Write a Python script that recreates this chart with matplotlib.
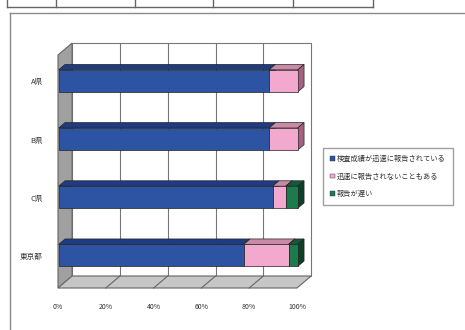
import matplotlib.pyplot as plt
from matplotlib.patches import Polygon, Patch
from matplotlib.lines import Line2D

plt.rcParams['font.family'] = ['Noto Sans CJK JP', 'DejaVu Sans']

# 地域ごとの回答割合 (%)
regions = ["東京都", "C県", "B県", "A県"]
timely = [77.4, 89.5, 88.0, 88.0]
sometimes = [18.8, 5.5, 12.0, 12.0]
slow = [3.8, 5.0, 0.0, 0.0]
series_names = ["検査成績が迅速に報告されている", "迅速に報告されないこともある", "報告が遅い"]
xticks = [0, 20, 40, 60, 80, 100]

W, H = 465, 330
fig = plt.figure(figsize=(W / 100, H / 100), dpi=100)

def fx(px):
    return px / W

def fy(py):
    return 1 - py / H

# 前面の座標系: x=0..100 %, y=カテゴリ
y_lo, y_hi = -0.55, 3.455
ax = fig.add_axes([fx(58), fy(288), fx(297) - fx(58), fy(55) - fy(288)])
ax.set_xlim(0, 100)
ax.set_ylim(y_lo, y_hi)
for s in ax.spines.values():
    s.set_visible(False)

# 奥行き方向のずらし量
DX, DY = 5.9, 0.206
bar_h = 0.38
d0, d1 = 0.05, 0.5  # 棒の奥行き位置 (壁の奥行きに対する割合)

def poly(pts, fc, ec="#222222", lw=0.5, z=1):
    p = Polygon(pts, closed=True, facecolor=fc, edgecolor=ec, linewidth=lw,
                clip_on=False, zorder=z)
    ax.add_patch(p)

# 奥の壁
poly([(DX, y_lo + DY), (100 + DX, y_lo + DY), (100 + DX, y_hi + DY), (DX, y_hi + DY)],
     "white", ec="#777777", lw=0.8, z=0)
for t in xticks[1:-1]:
    ax.plot([t + DX, t + DX], [y_lo + DY, y_hi + DY], color="#777777", lw=0.8,
            clip_on=False, zorder=0.5)
# 左の壁
poly([(0, y_lo), (DX, y_lo + DY), (DX, y_hi + DY), (0, y_hi)], "#a0a0a0", ec="#666666", lw=0.8, z=0.6)
# 床
poly([(0, y_lo), (100, y_lo), (100 + DX, y_lo + DY), (DX, y_lo + DY)], "#c6c6c6", ec="#666666", lw=0.8, z=0.6)
for t in xticks[1:-1]:
    ax.plot([t, t + DX], [y_lo, y_lo + DY], color="#666666", lw=0.8, clip_on=False, zorder=0.7)

colors = [("#2d54a3", "#1f3c80", "#17306a"),
          ("#f3a8cd", "#c98aa5", "#a86080"),
          ("#1d7a4c", "#14583a", "#0e4028")]

# 棒 (奥から手前、左から右の順に描く)
for i, reg in enumerate(regions[::-1]):
    idx = len(regions) - 1 - i
    yc = idx
    left = 0.0
    for vals, (front, top, side) in zip([timely, sometimes, slow], colors):
        v = vals[idx]
        if v <= 0:
            continue
        x0, x1 = left + d0 * DX, left + v + d0 * DX
        yb, yt = yc - bar_h / 2 + d0 * DY, yc + bar_h / 2 + d0 * DY
        ddx, ddy = (d1 - d0) * DX, (d1 - d0) * DY
        z = 2 + i
        poly([(x0, yt), (x1, yt), (x1 + ddx, yt + ddy), (x0 + ddx, yt + ddy)], top, z=z)
        poly([(x1, yb), (x1 + ddx, yb + ddy), (x1 + ddx, yt + ddy), (x1, yt)], side, z=z)
        poly([(x0, yb), (x1, yb), (x1, yt), (x0, yt)], front, z=z + 0.5)
        left += v

ax.set_xticks(xticks)
ax.set_xticklabels([f"{t}%" for t in xticks], fontsize=5, color="#333333")
ax.set_yticks(range(len(regions)))
ax.set_yticklabels(regions, fontsize=5.5, color="#333333")
ax.tick_params(axis="x", length=0, pad=11)
ax.tick_params(axis="y", length=0, pad=11)

handles = [Patch(facecolor=c[0], edgecolor="#333333", linewidth=0.3) for c in colors]
fig.legend(handles, series_names, loc="upper left",
           bbox_to_anchor=(fx(323), fy(148)), borderaxespad=0, fontsize=5.2, frameon=True,
           fancybox=False, edgecolor="#888888", handlelength=0.6, handleheight=0.6,
           handletextpad=0.3, labelspacing=1.3, borderpad=1.0, labelcolor="#333333")

# 外枠と上部の表の罫線
gray = "#8a8a8a"
fig.add_artist(Line2D([fx(10), fx(465)], [fy(13), fy(13)], color=gray, lw=1))
fig.add_artist(Line2D([fx(10), fx(10)], [fy(13), fy(330)], color=gray, lw=1))
fig.add_artist(Line2D([fx(7), fx(373)], [fy(7), fy(7)], color="#666666", lw=1))
for px in [7, 56, 135, 213, 293, 373]:
    fig.add_artist(Line2D([fx(px), fx(px)], [fy(0), fy(7)], color="#666666", lw=1))

fig.savefig("out.png", dpi=100)
